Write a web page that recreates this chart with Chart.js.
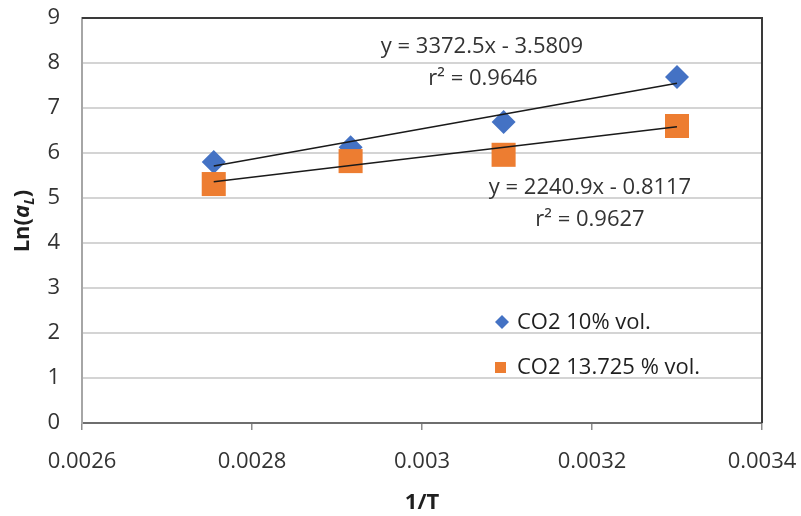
<!DOCTYPE html>
<html>
<head>
<meta charset="utf-8">
<script src="https://cdn.jsdelivr.net/npm/chart.js@4/dist/chart.umd.min.js"></script>
<style>
  html, body { margin: 0; padding: 0; background: #fff; }
  #wrap { width: 801px; height: 516px; position: relative; }
</style>
</head>
<body>
<div id="wrap"><canvas id="c"></canvas></div>
<script>
// values
var INV_T = [0.002755, 0.002916, 0.003096, 0.003300];
var LN_A_10 = [5.80, 6.13, 6.69, 7.69];
var LN_A_13 = [5.31, 5.82, 5.96, 6.60];
var SERIES_NAMES = ["CO2 10% vol.", "CO2 13.725 % vol."];
var FIT_SLOPE = [3372.5, 2240.9];
var FIT_INTERCEPT = [-3.5809, -0.8117];
var FIT_TEXT = [
  ["y = 3372.5x - 3.5809", "r\u00b2 = 0.9646"],
  ["y = 2240.9x - 0.8117", "r\u00b2 = 0.9627"]
];
var X_TICKS = ["0.0026", "0.0028", "0.003", "0.0032", "0.0034"];
var Y_TICKS = ["0", "1", "2", "3", "4", "5", "6", "7", "8", "9"];

var FONT = "'Open Sans', Lato, sans-serif";
var BLUE = "#4472C4";
var ORANGE = "#ED7D31";
var TXT = "#333333";

function pts(ys) {
  return INV_T.map(function (x, i) { return { x: x, y: ys[i] }; });
}

// trend line from the printed fit equation, over the span of the data
function fitLine(k) {
  var x0 = INV_T[0], x1 = INV_T[INV_T.length - 1];
  return [
    { x: x0, y: FIT_SLOPE[k] * x0 + FIT_INTERCEPT[k] },
    { x: x1, y: FIT_SLOPE[k] * x1 + FIT_INTERCEPT[k] }
  ];
}

var extras = {
  id: "extras",
  afterDraw: function (chart) {
    var ctx = chart.ctx;
    var a = chart.chartArea;
    ctx.save();

    // frame: dark top and right edges
    ctx.strokeStyle = "#3a3a3a";
    ctx.lineWidth = 2;
    ctx.beginPath();
    ctx.moveTo(a.left, a.top);
    ctx.lineTo(a.right, a.top);
    ctx.lineTo(a.right, a.bottom);
    ctx.stroke();

    // fit equations
    ctx.fillStyle = TXT;
    ctx.font = "22px " + FONT;
    ctx.textAlign = "center";
    ctx.textBaseline = "middle";
    ctx.fillText(FIT_TEXT[0][0], 482, 47);
    ctx.fillText(FIT_TEXT[0][1], 483, 79);
    ctx.fillText(FIT_TEXT[1][0], 590, 188);
    ctx.fillText(FIT_TEXT[1][1], 590, 220);

    // legend inside the plot
    ctx.textAlign = "left";
    ctx.fillStyle = BLUE;
    ctx.beginPath();
    ctx.moveTo(502, 315); ctx.lineTo(509, 322); ctx.lineTo(502, 329); ctx.lineTo(495, 322);
    ctx.closePath();
    ctx.fill();
    ctx.fillStyle = ORANGE;
    ctx.fillRect(495, 362, 11, 11);
    ctx.fillStyle = "#1f1f1f";
    ctx.fillText(SERIES_NAMES[0], 517, 323);
    ctx.fillText(SERIES_NAMES[1], 517, 368);

    // y axis title: Ln(a_L)
    ctx.translate(21, 221);
    ctx.rotate(-Math.PI / 2);
    ctx.fillStyle = "#1f1f1f";
    var f1 = "bold 22px " + FONT, f2 = "italic bold 22px " + FONT, f3 = "italic bold 15px " + FONT;
    var s1 = "Ln(", s2 = "a", s3 = "L", s4 = ")";
    ctx.font = f1; var w1 = ctx.measureText(s1).width, w4 = ctx.measureText(s4).width;
    ctx.font = f2; var w2 = ctx.measureText(s2).width;
    ctx.font = f3; var w3 = ctx.measureText(s3).width;
    var x = -(w1 + w2 + w3 + w4) / 2;
    ctx.textAlign = "left";
    ctx.textBaseline = "alphabetic";
    ctx.font = f1; ctx.fillText(s1, x, 8); x += w1;
    ctx.font = f2; ctx.fillText(s2, x, 8); x += w2;
    ctx.font = f3; ctx.fillText(s3, x, 13); x += w3;
    ctx.font = f1; ctx.fillText(s4, x, 8);
    ctx.restore();

    // x axis title
    ctx.save();
    ctx.fillStyle = "#1f1f1f";
    ctx.font = "bold 22px " + FONT;
    ctx.textAlign = "center";
    ctx.textBaseline = "middle";
    ctx.fillText("1/T", 422, 503);
    ctx.restore();
  }
};

new Chart(document.getElementById("c"), {
  type: "scatter",
  data: {
    datasets: [
      { label: "fit 10", data: fitLine(0), type: "line", borderColor: "#1a1a1a", borderWidth: 1.6,
        pointRadius: 0, fill: false, order: 0 },
      { label: "fit 13.725", data: fitLine(1), type: "line", borderColor: "#1a1a1a", borderWidth: 1.6,
        pointRadius: 0, fill: false, order: 0 },
      { label: SERIES_NAMES[1], data: pts(LN_A_13), pointStyle: "rect", pointRadius: 17,
        backgroundColor: ORANGE, borderColor: ORANGE, borderWidth: 0, order: 1 },
      { label: SERIES_NAMES[0], data: pts(LN_A_10), pointStyle: "rectRot", pointRadius: 12,
        backgroundColor: BLUE, borderColor: BLUE, borderWidth: 0, order: 2 }
    ]
  },
  options: {
    responsive: true,
    maintainAspectRatio: false,
    animation: false,
    events: [],
    layout: { padding: { left: 0, top: 18, right: 39, bottom: 0 } },
    plugins: { legend: { display: false }, tooltip: { enabled: false } },
    scales: {
      x: {
        type: "linear",
        min: 0.0026, max: 0.0034,
        afterBuildTicks: function (s) {
          s.ticks = X_TICKS.map(function (t) { return { value: parseFloat(t) }; });
        },
        ticks: {
          callback: function (v, i) { return X_TICKS[i]; },
          color: TXT, font: { family: FONT, size: 22 }, padding: 19, maxRotation: 0
        },
        grid: { drawOnChartArea: false, tickLength: 7, color: "#8c8c8c", lineWidth: 1.5 },
        border: { color: "#6e6e6e", width: 2 },
        afterFit: function (s) { s.height = 93; s.paddingLeft = 0; s.paddingRight = 0; }
      },
      y: {
        min: 0, max: 9,
        afterBuildTicks: function (s) {
          s.ticks = Y_TICKS.map(function (t) { return { value: parseFloat(t) }; });
        },
        ticks: {
          callback: function (v, i) { return Y_TICKS[i]; },
          color: TXT, font: { family: FONT, size: 22 }, padding: 22
        },
        grid: { color: "#d4d4d4", lineWidth: 2, drawTicks: false },
        border: { color: "#a6a6a6", width: 2 },
        afterFit: function (s) { s.width = 82; s.paddingTop = 0; s.paddingBottom = 0; }
      }
    }
  },
  plugins: [extras]
});
</script>
</body>
</html>
